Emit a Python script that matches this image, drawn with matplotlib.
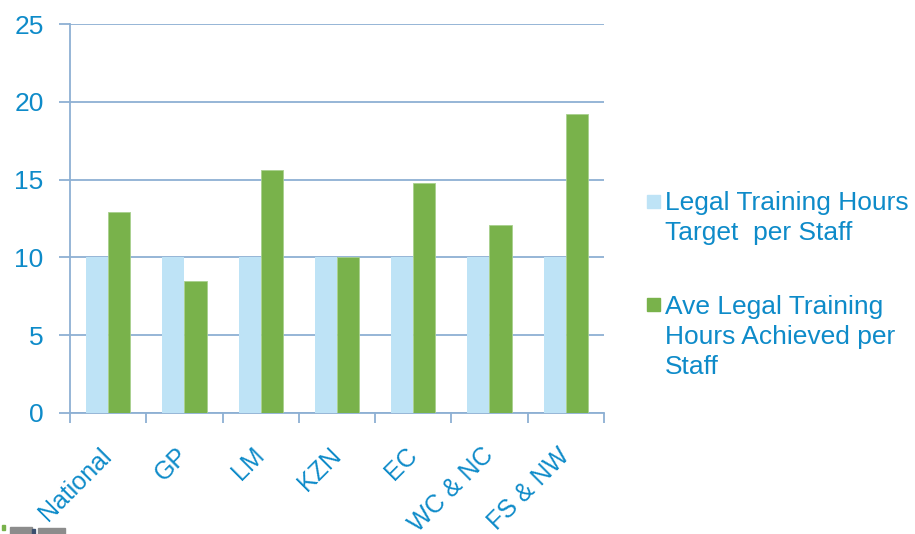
import matplotlib
matplotlib.use('agg')
from matplotlib import pyplot as plt
from matplotlib.patches import Rectangle
import numpy as np

plt.rcParams['font.family'] = ['Liberation Sans', 'DejaVu Sans']

regions = ['National', 'GP', 'LM', 'KZN', 'EC', 'WC & NC', 'FS & NW']
target_hours = [10, 10, 10, 10, 10, 10, 10]
achieved_hours = [12.9, 8.5, 15.6, 10, 14.8, 12.1, 19.2]
series_labels = [
    'Legal Training Hours\nTarget  per Staff',
    'Ave Legal Training\nHours Achieved per\nStaff',
]

TEXT_COLOR = '#0E8BC9'
AXIS_COLOR = '#8DB0D3'
TARGET_COLOR = '#BEE3F6'
ACHIEVED_COLOR = '#79B24B'

fig = plt.figure(figsize=(9.15, 5.34), dpi=100)
ax = fig.add_axes([0.0765, 0.2266, 0.5835, 0.7284])

x = np.arange(len(regions))
w = 0.29
bars_t = ax.bar(x - w / 2, target_hours, w, color=TARGET_COLOR, zorder=3)
bars_a = ax.bar(x + w / 2, achieved_hours, w, color=ACHIEVED_COLOR,
                edgecolor='#A9D08E', linewidth=0.6, zorder=3)

ax.set_xlim(-0.5, len(regions) - 0.5)
ax.set_ylim(0, 25)
ax.set_yticks(range(0, 26, 5))
ax.yaxis.grid(True, color=AXIS_COLOR, linewidth=1.3, zorder=0)
ax.set_axisbelow(True)

for side in ('top', 'right'):
    ax.spines[side].set_visible(False)
for side in ('left', 'bottom'):
    ax.spines[side].set_color(AXIS_COLOR)
    ax.spines[side].set_linewidth(1.3)

# ticks sit on the category boundaries, labels at the centres
ax.set_xticks(np.arange(len(regions) + 1) - 0.5)
ax.set_xticklabels([])
ax.tick_params(axis='x', direction='out', length=7, width=1.3, color=AXIS_COLOR)
ax.tick_params(axis='y', direction='out', length=8, width=1.3, color=AXIS_COLOR,
               labelsize=19, labelcolor=TEXT_COLOR, pad=11)
for i, name in enumerate(regions):
    ax.annotate(name, xy=(i, 0), xycoords=('data', 'axes fraction'),
                xytext=(0, -28), textcoords='offset points',
                rotation=45, rotation_mode='anchor', ha='right', va='center',
                fontsize=18, color=TEXT_COLOR)

# legend: swatch lines up with the first line of each label
swatch_colors = [bars_t.patches[0].get_facecolor(), bars_a.patches[0].get_facecolor()]
swatch_bottoms = [0.6105, 0.4176]
first_baselines = [0.6067, 0.412]
for color, label, yb, yt in zip(swatch_colors, series_labels, swatch_bottoms, first_baselines):
    fig.patches.append(Rectangle((0.707, yb), 0.0142, 0.0243,
                                 transform=fig.transFigure, color=color))
    for k, line in enumerate(label.split('\n')):
        fig.text(0.7268, yt - k * 30 / 534, line, fontsize=19, color=TEXT_COLOR,
                 va='baseline', ha='left')

# fragment of the footer logo at the bottom-left corner
for (x0, y0, ww, hh, c) in [
    (0.002, 0.008, 0.004, 0.008, '#79B24B'),
    (0.011, 0.0, 0.024, 0.014, '#8C8C8C'),
    (0.035, 0.0, 0.003, 0.010, '#3A4E6E'),
    (0.041, 0.0, 0.030, 0.012, '#8C8C8C'),
]:
    fig.patches.append(Rectangle((x0, y0), ww, hh, transform=fig.transFigure, color=c))

fig.savefig('out.png', dpi=100, facecolor='white')
